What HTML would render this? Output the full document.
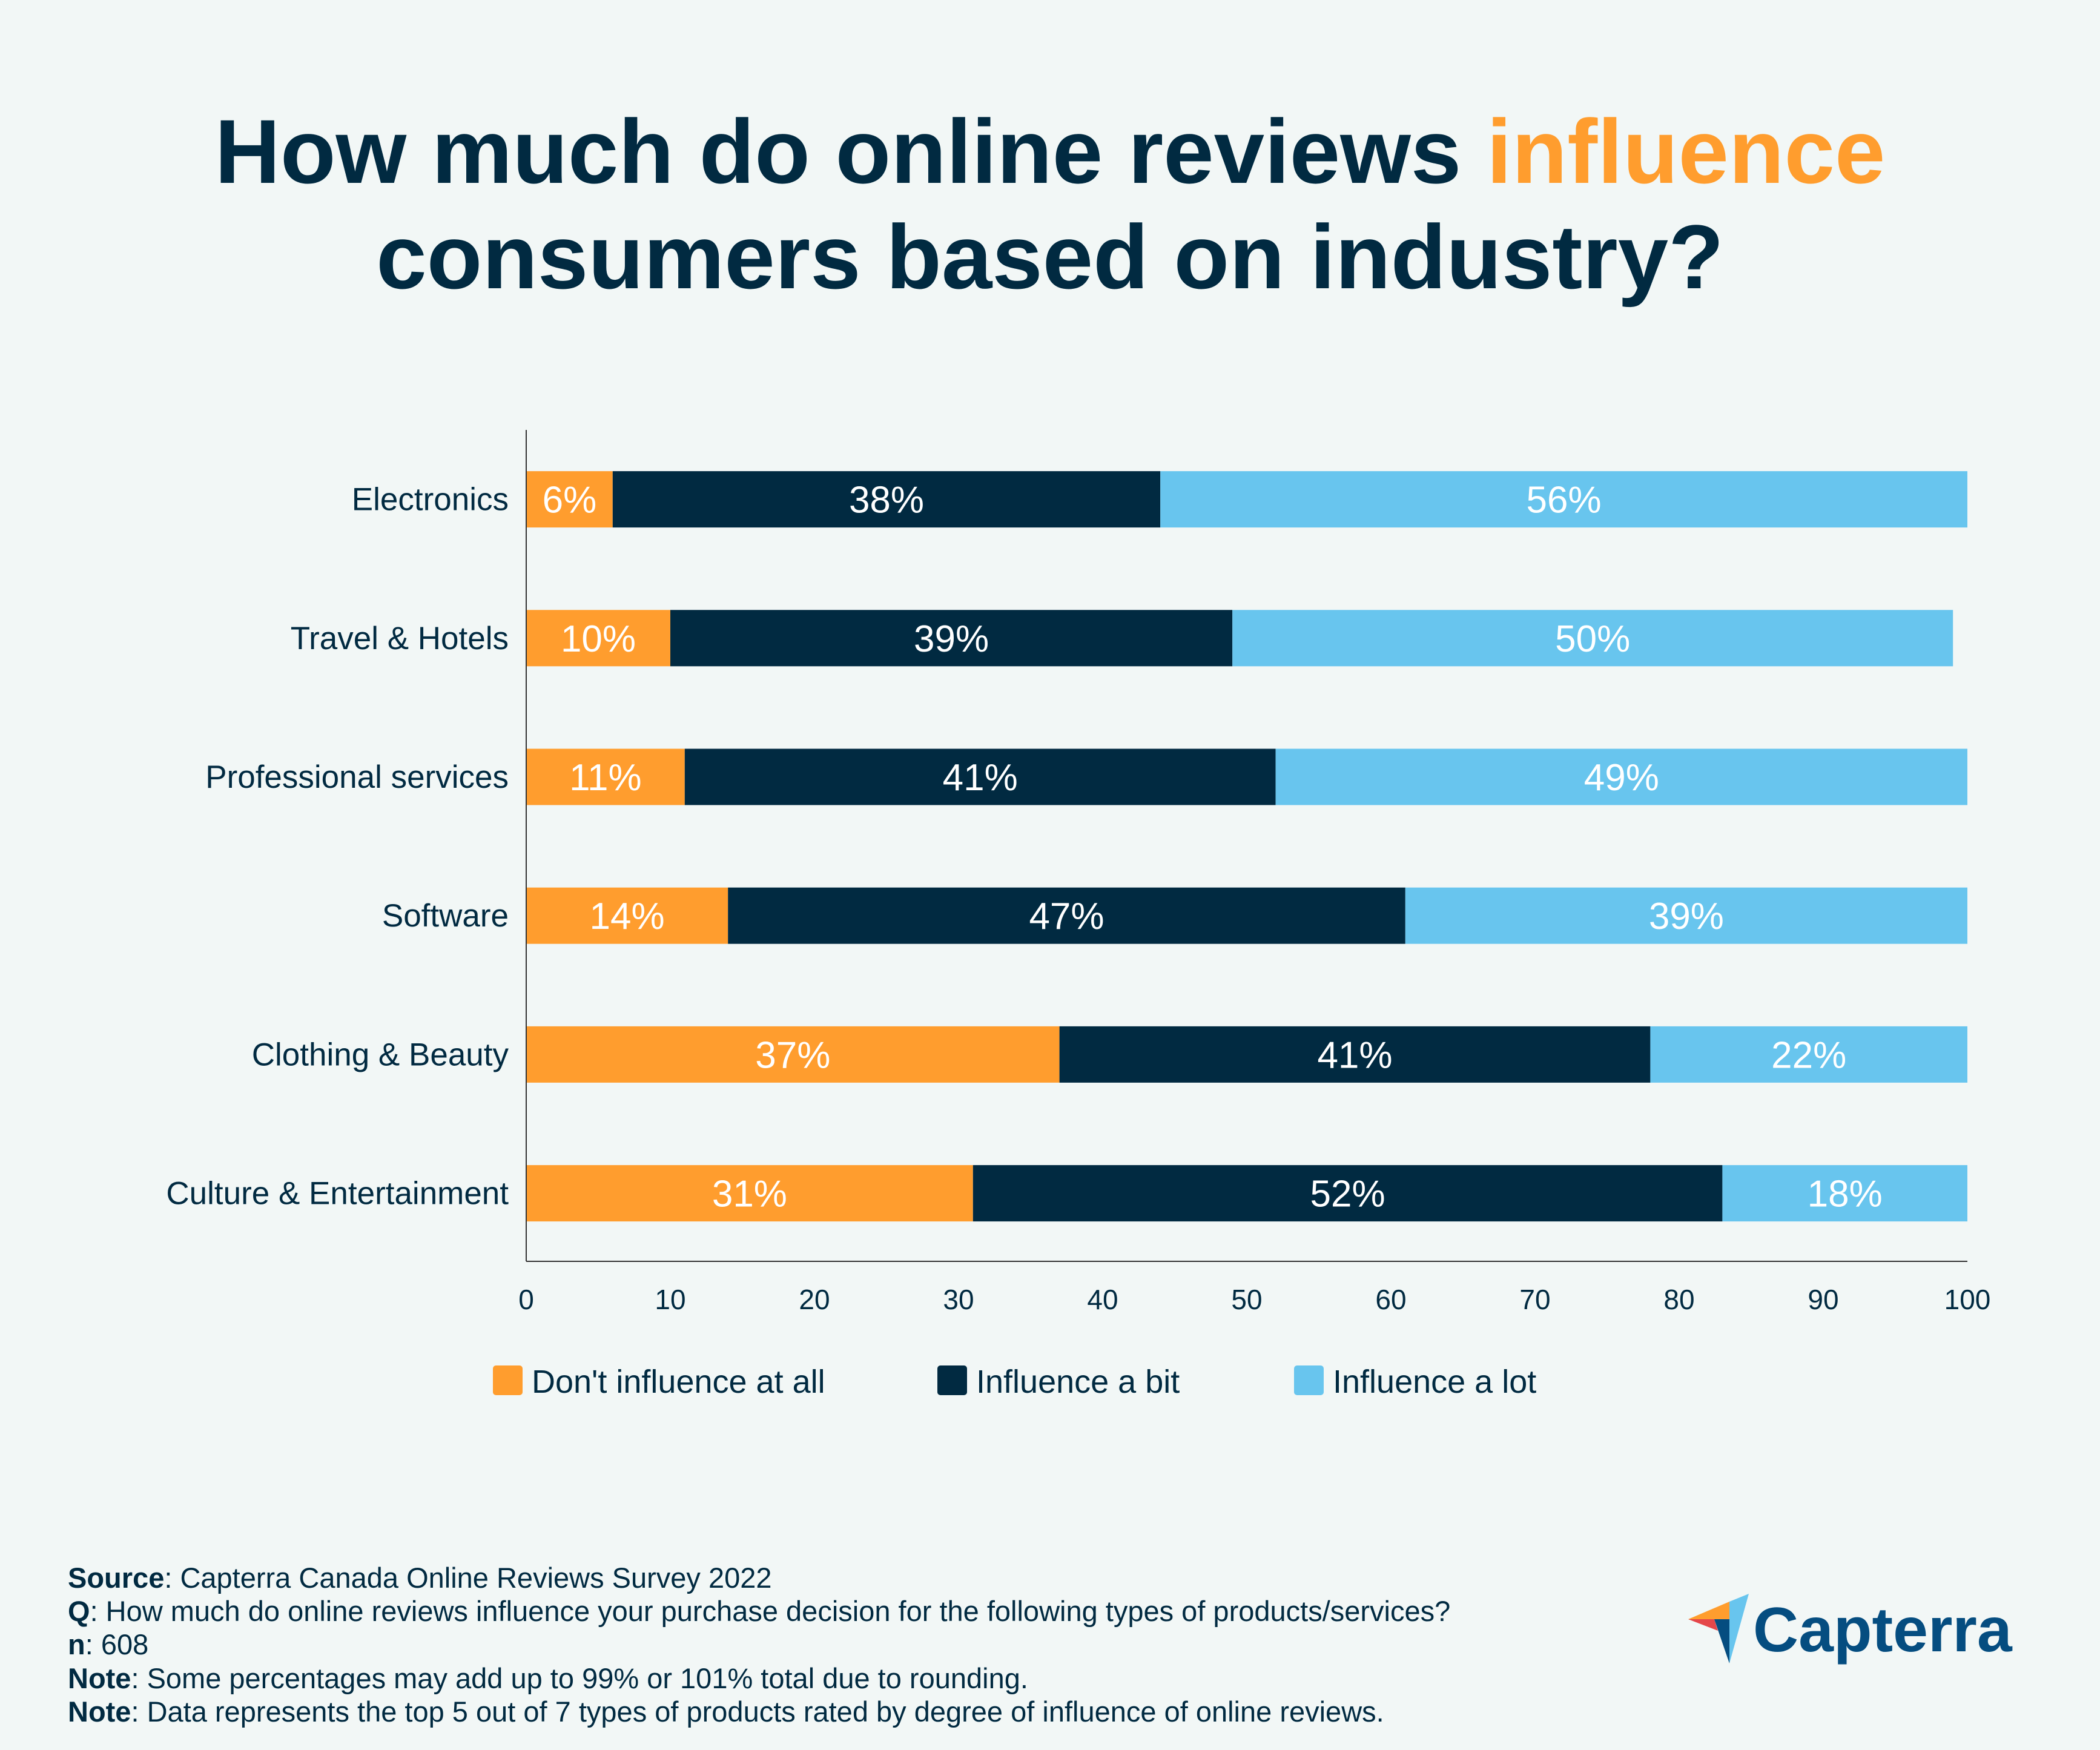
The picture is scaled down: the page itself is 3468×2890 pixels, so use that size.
<!DOCTYPE html>
<html><head><meta charset="utf-8"><style>
html,body{margin:0;padding:0;background:#f2f7f6;}
svg{display:block;font-family:"Liberation Sans",sans-serif;}
</style></head><body>
<svg id="chart" width="3468" height="2890" viewBox="0 0 3468 2890" xmlns="http://www.w3.org/2000/svg">
<rect width="3468" height="2890" fill="#f2f7f6"/>
<text x="1734" y="302" text-anchor="middle" font-size="150" font-weight="bold" fill="#012a41">How much do online reviews <tspan fill="#ff9d2e">influence</tspan></text>
<text x="1734" y="476" text-anchor="middle" font-size="150" font-weight="bold" fill="#012a41">consumers based on industry?</text>
<g id="plot"></g>
<g id="legend"></g>
<g font-size="47" fill="#012a41">
<text x="112" y="2622"><tspan font-weight="bold">Source</tspan>: Capterra Canada Online Reviews Survey 2022</text>
<text x="112" y="2677"><tspan font-weight="bold">Q</tspan>: How much do online reviews influence your purchase decision for the following types of products/services?</text>
<text x="112" y="2732"><tspan font-weight="bold">n</tspan>: 608</text>
<text x="112" y="2788"><tspan font-weight="bold">Note</tspan>:  Some percentages may add up to 99% or 101% total due to rounding.</text>
<text x="112" y="2843"><tspan font-weight="bold">Note</tspan>:  Data represents the top 5 out of 7 types of products rated by degree of influence of online reviews.</text>
</g>
<g>
<polygon points="2788,2674 2856,2645 2856,2674" fill="#ff9d2e"/>
<polygon points="2856,2645 2888,2632 2856,2747" fill="#68c5ee"/>
<polygon points="2788,2674 2831,2674 2837,2693" fill="#e5474a"/>
<polygon points="2831,2674 2856,2674 2856,2747" fill="#054d80"/>
<text x="2895" y="2727" font-size="104" font-weight="bold" fill="#054d80">Capterra</text>
</g>
</svg>
<script>
const categories=["Electronics","Travel & Hotels","Professional services","Software","Clothing & Beauty","Culture & Entertainment"];
const dontInfluence=[6,10,11,14,37,31];
const influenceBit=[38,39,41,47,41,52];
const influenceLot=[56,50,49,39,22,18];
const ticks=[0,10,20,30,40,50,60,70,80,90,100];
const seriesNames=["Don't influence at all","Influence a bit","Influence a lot"];
const colors=["#ff9d2e","#012a41","#68c5ee"];
const NS="http://www.w3.org/2000/svg";
const X0=869,X1=3249,YTOP=710,BAND=229.2,BARH=93;
const xs=v=>X0+(X1-X0)*Math.min(v,100)/100;
const yc=i=>YTOP+BAND*(i+0.5);
const plot=document.getElementById('plot');
function mk(tag,attrs,parent){const e=document.createElementNS(NS,tag);for(const k in attrs)e.setAttribute(k,attrs[k]);parent.appendChild(e);return e;}
const series=[dontInfluence,influenceBit,influenceLot];
categories.forEach((c,i)=>{
  let acc=0;
  series.forEach((s,j)=>{
    const v=s[i];
    const r=mk('rect',{x:xs(acc),y:yc(i)-BARH/2,width:xs(acc+v)-xs(acc),height:BARH,fill:colors[j]},plot);
    
    
    const t=mk('text',{x:(xs(acc)+xs(acc+v))/2,y:yc(i)+22,'text-anchor':'middle','font-size':62,fill:'#ffffff'},plot);
    t.textContent=v+'%';
    
    
    acc+=v;
  });
  const l=mk('text',{x:840,y:yc(i)+18,'text-anchor':'end','font-size':53,fill:'#012a41'},plot);
  l.textContent=c;
  
  
});
const ax=mk('line',{x1:X0,y1:YTOP,x2:X0,y2:2083,stroke:'#333',"stroke-width":2},plot);


const bx=mk('line',{x1:X0,y1:2083,x2:X1,y2:2083,stroke:'#333',"stroke-width":2},plot);


ticks.forEach(t=>{
  const e=mk('text',{x:xs(t),y:2162,'text-anchor':'middle','font-size':46,fill:'#012a41'},plot);
  e.textContent=t;
  
  
});
const leg=document.getElementById('legend');
const lx=[814,1548,2137];
seriesNames.forEach((n,j)=>{
  const g=mk('g',{},leg);
  
  
  mk('rect',{x:lx[j],y:2255,width:49,height:49,rx:5,fill:colors[j]},g);
  const t=mk('text',{x:lx[j]+64,y:2300,'font-size':54,fill:'#012a41'},g);
  t.textContent=n;
});
</script>
</body></html>
